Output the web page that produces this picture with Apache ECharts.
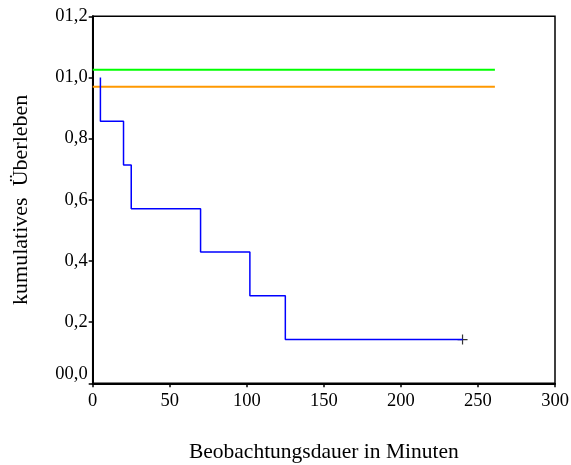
<!DOCTYPE html>
<html><head><meta charset="utf-8">
<script src="https://cdn.jsdelivr.net/npm/echarts@6/dist/echarts.min.js"></script>
<style>html,body{margin:0;padding:0;background:#fff}#c{width:571px;height:465px}</style>
</head><body><div id="c"></div>
<script>
// Kaplan-Meier step curve: event times and survival after each event
const eventTimes = [5, 20, 25, 70, 102, 125];
const survival = [0.857, 0.714, 0.571, 0.429, 0.286, 0.143];
const startSurvival = 1.0;
const censorTime = [240];
const censorSurv = [0.143];
const greenRef = 1.025;
const orangeRef = 0.97;
const refEnd = 261;
const xTicks = [0, 50, 100, 150, 200, 250, 300];
const yTickLabels = {'0': '00,0', '0.2': '0,2', '0.4': '0,4', '0.6': '0,6', '0.8': '0,8', '1': '01,0', '1.2': '01,2'};

const kmPts = [[eventTimes[0], startSurvival]];
for (let i = 0; i < eventTimes.length; i++) {
  if (i > 0) kmPts.push([eventTimes[i], survival[i - 1]]);
  kmPts.push([eventTimes[i], survival[i]]);
}
kmPts.push([censorTime[0], censorSurv[0]]);

const font = '"Liberation Serif", "Times New Roman", serif';
const chart = echarts.init(document.getElementById('c'));
chart.setOption({
  animation: false,
  grid: {left: 92.7, right: 16, top: 16.3, bottom: 81.7, outerBoundsMode: 'none', containLabel: false,
    show: true, borderColor: '#000', borderWidth: 1.5, backgroundColor: 'transparent'},
  xAxis: {
    type: 'value', min: 0, max: 300, interval: 50,
    name: 'Beobachtungsdauer in Minuten', nameLocation: 'middle', nameGap: 58,
    nameTextStyle: {fontFamily: font, fontSize: 21.5, color: '#000'},
    axisLine: {lineStyle: {color: '#000', width: 2}},
    axisTick: {show: true, length: 4, lineStyle: {color: '#000', width: 1.5}},
    axisLabel: {fontFamily: font, fontSize: 18.5, color: '#000', margin: 8},
    splitLine: {show: false}
  },
  yAxis: {
    type: 'value', min: 0, max: 1.2, interval: 0.2,
    name: 'kumulatives  Überleben', nameLocation: 'middle', nameGap: 60,
    nameTextStyle: {fontFamily: font, fontSize: 22, color: '#000'},
    axisLine: {show: true, lineStyle: {color: '#000', width: 2}},
    axisTick: {show: true, length: 4, lineStyle: {color: '#000', width: 1.5}},
    axisLabel: {fontFamily: font, fontSize: 18.5, color: '#000', margin: 5,
      verticalAlignMinLabel: 'bottom',
      formatter: v => yTickLabels[String(Math.round(v * 10) / 10)] || ''},
    splitLine: {show: false}
  },
  series: [
    {type: 'line', data: [[0, greenRef], [refEnd, greenRef]], symbol: 'none', lineStyle: {color: '#00ff00', width: 2}},
    {type: 'line', data: [[0, orangeRef], [refEnd, orangeRef]], symbol: 'none', lineStyle: {color: '#ff9900', width: 2}},
    {type: 'line', data: kmPts, symbol: 'none', lineStyle: {color: '#0000ff', width: 1.5}},
    {type: 'scatter', data: censorTime.map((t, i) => [t, censorSurv[i]]),
      symbol: 'path://M4.4,0h1.2v4.4h4.4v1.2h-4.4v4.4h-1.2v-4.4h-4.4v-1.2h4.4z', symbolSize: 10,
      itemStyle: {color: '#000'}}
  ]
});
</script></body></html>
